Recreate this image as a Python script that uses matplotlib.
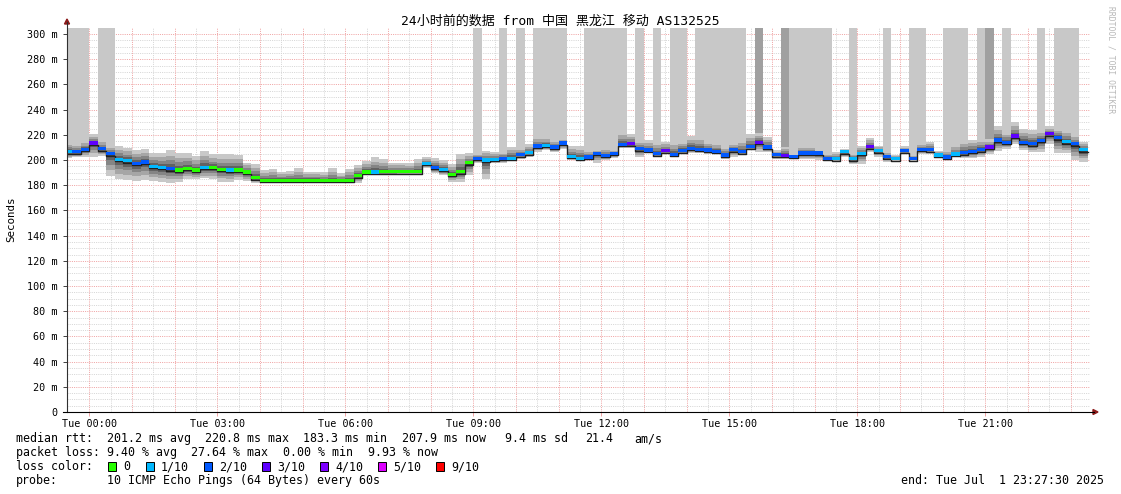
"""smokeping style latency graph - 24h, AS132525"""
import numpy as np
import matplotlib
matplotlib.use('Agg')
import matplotlib.pyplot as plt
from matplotlib.lines import Line2D
from matplotlib.patches import Polygon, Rectangle

plt.rcParams['font.family'] = ['DejaVu Sans Mono', 'Noto Sans CJK SC']

# 12 min bins, x in hours from Tue 00:00 (first bin starts Mon 23:24)
bin_start = -0.6
bin_hours = 0.2

median = [206.0, 206.0, 208.0, 213.0, 208.5, 204.5, 200.0, 199.0, 197.0, 198.0,
          194.5, 193.5, 192.5, 191.5, 193.0, 191.5, 193.5, 193.5, 192.0, 191.5,
          191.5, 190.0, 185.5, 183.5, 183.3, 183.3, 183.3, 183.3, 183.3, 183.3,
          183.3, 183.3, 183.3, 183.3, 187.0, 190.0, 190.0, 190.3, 190.3, 190.2,
          190.2, 190.2, 196.7, 193.6, 191.9, 188.1, 190.2, 197.4, 200.8, 199.5,
          200.0, 201.0, 201.0, 203.7, 205.3, 210.6, 211.1, 209.8, 213.0, 202.4,
          200.8, 201.8, 204.8, 203.2, 204.8, 211.9, 212.4, 208.5, 207.4, 204.5,
          206.9, 204.0, 206.9, 208.7, 207.9, 207.4, 206.3, 203.4, 207.7, 206.1,
          210.0, 213.7, 209.8, 203.7, 203.3, 202.4, 205.0, 205.0, 205.0, 201.0,
          200.5, 206.1, 200.5, 204.8, 210.1, 206.9, 202.1, 200.5, 206.9, 200.5,
          207.9, 207.7, 203.4, 201.8, 204.2, 205.3, 206.3, 207.7, 209.8, 215.3,
          213.7, 218.5, 213.7, 212.4, 215.1, 220.4, 217.2, 214.0, 212.4, 207.7]
loss = [1, 2, 2, 3, 2, 2, 1, 1, 2, 2,
        1, 1, 2, 0, 0, 0, 1, 0, 0, 1,
        0, 0, 0, 0, 0, 0, 0, 0, 0, 0,
        0, 0, 0, 0, 0, 0, 1, 0, 0, 0,
        0, 0, 1, 2, 1, 0, 0, 0, 2, 1,
        1, 2, 1, 2, 1, 2, 1, 2, 2, 1,
        1, 2, 2, 2, 2, 2, 3, 2, 2, 2,
        3, 2, 2, 2, 2, 2, 2, 2, 2, 2,
        2, 3, 2, 2, 3, 2, 2, 2, 2, 2,
        1, 1, 1, 1, 3, 1, 2, 1, 2, 2,
        2, 2, 1, 2, 1, 2, 2, 2, 3, 2,
        2, 3, 2, 2, 2, 3, 2, 1, 2, 1]
smoke_lo = [201.3, 202.1, 202.6, 202.6, 203.2, 187.6, 184.7, 184.1, 183.3, 184.1,
            183.6, 182.8, 182.0, 182.8, 184.7, 184.7, 185.4, 184.9, 182.8, 182.8,
            184.1, 183.3, 182.0, 182.0, 182.0, 182.0, 182.0, 182.0, 182.0, 182.0,
            182.0, 182.0, 182.0, 182.0, 182.0, 189.4, 188.9, 188.1, 188.1, 188.6,
            188.6, 188.6, 193.4, 189.4, 188.1, 182.8, 182.8, 188.1, 197.4, 184.9,
            197.4, 197.9, 199.5, 200.5, 202.6, 206.6, 207.9, 206.6, 208.5, 200.0,
            199.2, 200.5, 197.9, 200.0, 201.3, 209.3, 209.3, 202.1, 205.3, 202.6,
            204.8, 202.6, 204.8, 205.8, 205.8, 204.8, 204.8, 200.5, 202.6, 204.0,
            207.9, 206.6, 206.6, 200.5, 200.8, 200.5, 200.5, 200.5, 200.0, 200.0,
            198.7, 202.6, 196.8, 196.8, 206.6, 202.6, 198.7, 199.5, 204.8, 199.5,
            204.8, 204.8, 202.6, 200.5, 202.1, 201.3, 201.3, 202.6, 204.8, 207.4,
            208.5, 212.4, 207.9, 206.6, 206.6, 212.7, 205.3, 205.3, 200.0, 198.7]
smoke_hi = [214.5, 213.2, 215.3, 220.6, 216.4, 211.9, 211.4, 209.8, 207.9, 208.7,
            205.8, 205.8, 207.9, 205.3, 205.3, 203.2, 207.1, 204.5, 204.5, 204.5,
            204.0, 197.9, 196.8, 192.1, 192.9, 190.7, 191.5, 193.4, 190.7, 190.7,
            190.2, 193.4, 189.4, 192.9, 196.0, 199.2, 202.1, 200.5, 197.9, 197.9,
            197.3, 200.5, 202.5, 201.5, 200.0, 196.5, 204.8, 205.3, 205.3, 207.4,
            206.6, 206.6, 210.6, 209.3, 212.7, 219.0, 218.5, 215.9, 216.7, 211.1,
            211.1, 207.9, 208.5, 209.3, 208.5, 222.5, 220.6, 215.3, 215.9, 214.5,
            214.5, 214.5, 215.3, 219.0, 218.5, 215.3, 213.7, 210.6, 213.7, 215.9,
            220.6, 221.7, 218.5, 207.9, 210.6, 204.8, 211.1, 211.1, 207.9, 205.3,
            206.6, 208.7, 205.3, 211.1, 217.7, 211.4, 206.6, 204.0, 211.1, 204.0,
            213.2, 214.5, 207.1, 208.7, 212.7, 215.1, 215.9, 216.4, 216.4, 227.0,
            222.5, 230.4, 224.6, 223.8, 223.8, 226.7, 225.7, 224.6, 220.4, 214.5]
# 0 = none, 1 = one ping off the scale, 2 = two pings off the scale
outlier = [1, 1, 1, 0, 1, 1, 0, 0, 0, 0,
           0, 0, 0, 0, 0, 0, 0, 0, 0, 0,
           0, 0, 0, 0, 0, 0, 0, 0, 0, 0,
           0, 0, 0, 0, 0, 0, 0, 0, 0, 0,
           0, 0, 0, 0, 0, 0, 0, 0, 1, 0,
           0, 1, 0, 1, 0, 1, 1, 1, 1, 0,
           0, 1, 1, 1, 1, 1, 0, 1, 0, 1,
           0, 1, 1, 0, 1, 1, 1, 1, 1, 1,
           0, 2, 0, 0, 2, 1, 1, 1, 1, 1,
           0, 0, 1, 0, 0, 0, 1, 0, 0, 1,
           1, 0, 0, 1, 1, 1, 0, 1, 2, 0,
           1, 0, 0, 0, 1, 0, 1, 1, 1, 0]

loss_colors = ['#26ff00', '#00b8ff', '#0059ff', '#5e00ff', '#7e00ff', '#dd00ff', '#ff0000']
loss_labels = ['0', '1/10', '2/10', '3/10', '4/10', '5/10', '9/10']

hour_labels = ['Tue 00:00', 'Tue 03:00', 'Tue 06:00', 'Tue 09:00',
               'Tue 12:00', 'Tue 15:00', 'Tue 18:00', 'Tue 21:00']

W, H = 1121, 494
fig = plt.figure(figsize=(W / 100, H / 100), dpi=100)
fig.patch.set_facecolor('white')
x0, x1, y0, y1 = 67, 1090, 412, 28
ax = fig.add_axes([x0 / W, 1 - y0 / H, (x1 - x0) / W, (y0 - y1) / H])
ax.set_xlim(-0.5227, 23.453)
ax.set_ylim(0, 304.8)

med = np.array(median)
lo = np.array(smoke_lo)
hi = np.array(smoke_hi)
out = np.array(outlier)
n = len(med)
edges = bin_start + bin_hours * np.arange(n + 1)


def stepv(a):
    return np.append(a, a[-1])


# smoke: nested grey bands, outer light -> inner dark
shades = ['#c8c8c8', '#a6a6a6', '#858585', '#626262', '#3e3e3e']
fracs = [1.0, 0.72, 0.48, 0.28, 0.12]
for c, f in zip(shades, fracs):
    ax.fill_between(edges, stepv(med - (med - lo) * f), stepv(med + (hi - med) * f),
                    step='post', color=c, lw=0, zorder=1)

# pings off the scale
for lvl, c in [(1, '#c8c8c8'), (2, '#a0a0a0')]:
    m = out == lvl
    ax.bar(edges[:-1][m], 320 - hi[m], bottom=hi[m], width=bin_hours, align='edge',
           color=c, lw=0, antialiased=False, zorder=1)

# median line
ax.step(edges, stepv(med - 1.0), where='post', color='#202020', lw=1.0, zorder=3)
cols = [loss_colors[i] for i in loss]
ax.bar(edges[:-1], 2.6, bottom=med - 0.8, width=bin_hours, align='edge',
       color=cols, lw=0, antialiased=False, zorder=4)

# grid (dotted, under the smoke)
for v in np.arange(5, 305, 5):
    major = v % 20 == 0
    ax.axhline(v, color='#f0a4a4' if major else '#d6d6d6', lw=0.72,
               ls=(0, (1, 1.2)), zorder=0.5)
for t in np.arange(0, 23.5, 0.5):
    major = t % 1 == 0
    ax.axvline(t, color='#f0a4a4' if major else '#d6d6d6', lw=0.72,
               ls=(0, (1, 1.2)), zorder=0.5)

for s in ['top', 'right', 'left', 'bottom']:
    ax.spines[s].set_visible(False)

ax.set_yticks(np.arange(0, 301, 20))
ax.set_yticklabels(['0'] + ['%d m' % v for v in range(20, 301, 20)])
ax.set_xticks(np.arange(0, 24, 3))
ax.set_xticklabels(hour_labels)
ax.tick_params(axis='y', length=3, width=0.7, color='#404040', pad=4, labelsize=7.3)
ax.tick_params(axis='x', length=3, width=0.7, color='#f0a4a4', pad=2, labelsize=7.3)

# axes lines with arrows
fig.add_artist(Line2D([x0 / W, x0 / W], [1 - 412 / H, 1 - 22 / H], color='#303030', lw=0.8))
fig.add_artist(Line2D([63 / W, 1094 / W], [1 - 412 / H, 1 - 412 / H], color='black', lw=0.8))
fig.add_artist(Polygon([[64.5 / W, 1 - 24 / H], [69.5 / W, 1 - 24 / H], [67 / W, 1 - 19 / H]],
                       closed=True, transform=fig.transFigure, color='#8b1a1a'))
fig.add_artist(Polygon([[1093 / W, 1 - 409.5 / H], [1093 / W, 1 - 414.5 / H], [1098 / W, 1 - 412 / H]],
                       closed=True, transform=fig.transFigure, color='#8b1a1a'))

fig.text(560 / W, 1 - 21 / H, '24小时前的数据 from 中国 黑龙江 移动 AS132525',
         ha='center', va='center', fontsize=9.4)
fig.text(11 / W, 1 - 219 / H, 'Seconds', rotation=90, ha='center', va='center', fontsize=7.8)
fig.text(1111 / W, 1 - 60 / H, 'RRDTOOL / TOBI OETIKER', rotation=270, ha='center',
         va='center', fontsize=5.8, color='#b8b8b8')

# legend rows
fs = 8.4
rows = [
    (438.5, 'median rtt:', [(107, '201.2 ms avg'), (205, '220.8 ms max'), (303, '183.3 ms min'),
                            (402, '207.9 ms now'), (505, '9.4 ms sd'), (585, '21.4'), (634, 'am/s')]),
    (452.5, 'packet loss:', [(107, '9.40 % avg'), (191, '27.64 % max'), (283, '0.00 % min'),
                             (368, '9.93 % now')]),
    (480.5, 'probe:', [(107, '10 ICMP Echo Pings (64 Bytes) every 60s')]),
]
for y, label, parts in rows:
    fig.text(16 / W, 1 - y / H, label, ha='left', va='center', fontsize=fs)
    for x, s in parts:
        fig.text(x / W, 1 - y / H, s, ha='left', va='center', fontsize=fs)

fig.text(16 / W, 1 - 466.5 / H, 'loss color:', ha='left', va='center', fontsize=fs)
box_x = [108, 146, 204, 262, 320, 378, 436]
for bx, c, lab in zip(box_x, loss_colors, loss_labels):
    fig.add_artist(Rectangle((bx / W, 1 - 471 / H), 8 / W, 9 / H, transform=fig.transFigure,
                             facecolor=c, edgecolor='black', lw=0.7))
    fig.text((bx + 15) / W, 1 - 466.5 / H, lab, ha='left', va='center', fontsize=fs)

fig.text(1104 / W, 1 - 480.5 / H, 'end: Tue Jul  1 23:27:30 2025', ha='right', va='center',
         fontsize=fs)

fig.savefig('out.png', dpi=100)
